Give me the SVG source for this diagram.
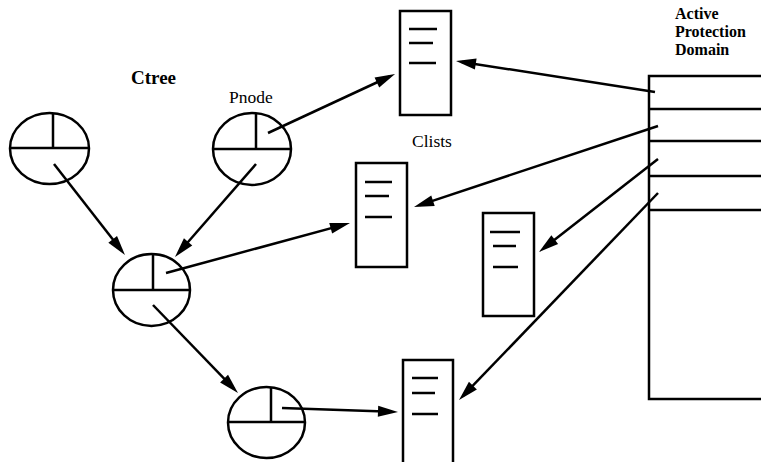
<svg xmlns="http://www.w3.org/2000/svg" width="761" height="462" viewBox="0 0 761 462">
<style>
.s{fill:none;stroke:#000;stroke-width:2.5}
.l{fill:none;stroke:#000;stroke-width:2.5;stroke-linecap:butt;marker-end:url(#ah)}
.t{font-family:"Liberation Serif","Times New Roman",serif;fill:#000}
.b{font-weight:bold}
</style>
<defs>
<marker id="ah" markerUnits="userSpaceOnUse" markerWidth="21" markerHeight="12" refX="14" refY="5.5" orient="auto" overflow="visible">
<path d="M0,0 L20,5.5 L0,11 z" fill="#000"/>
</marker>
</defs>
<rect width="761" height="462" fill="#fff"/>

<g id="labels">
<text class="t b" x="131" y="84" font-size="19">Ctree</text>
<text class="t" x="229" y="103" font-size="17.5">Pnode</text>
<text class="t" x="412" y="147" font-size="17.5">Clists</text>
<text class="t b" x="675" y="19" font-size="16">Active</text>
<text class="t b" x="675" y="37" font-size="16">Protection</text>
<text class="t b" x="675" y="55" font-size="16">Domain</text>
</g>

<g id="node1">
<ellipse class="s" cx="49.5" cy="148.5" rx="39.5" ry="35.5"/>
<path class="s" d="M10,148 H89 M53,113 V148"/>
</g>
<g id="node2">
<ellipse class="s" cx="252" cy="149" rx="39" ry="36"/>
<path class="s" d="M213,149 H291 M256,113 V149"/>
</g>
<g id="node3">
<ellipse class="s" cx="151.5" cy="290" rx="38.5" ry="36"/>
<path class="s" d="M113,290 H190 M153,254 V290"/>
</g>
<g id="node4">
<ellipse class="s" cx="266.5" cy="422.5" rx="38.5" ry="35.5"/>
<path class="s" d="M228,422 H305 M271,387 V422"/>
</g>

<g id="clist1">
<rect class="s" x="400" y="11" width="51" height="104"/>
<path class="s" d="M409,29 H437 M409,43 H433 M409,63 H436"/>
</g>
<g id="clist2">
<rect class="s" x="356" y="163" width="51" height="104"/>
<path class="s" d="M365,182 H392 M365,196 H389 M365,217 H392"/>
</g>
<g id="clist3">
<rect class="s" x="483" y="213" width="51" height="103"/>
<path class="s" d="M490,232 H520 M493,246 H516 M493,267 H518"/>
</g>
<g id="clist4">
<rect class="s" x="403" y="360" width="50" height="120"/>
<path class="s" d="M412,378 H438 M412,393 H435 M412,414 H438"/>
</g>

<g id="apd">
<rect class="s" x="649" y="76" width="130" height="323"/>
<path class="s" d="M649,109 H761 M649,141 H761 M649,176 H761 M649,210 H761"/>
</g>

<g id="connectors">
<path class="l" d="M54,164 L121.3,250.3"/>
<path class="l" d="M256,164 L178.9,252.5"/>
<path class="l" d="M268,133 L389.6,76.5"/>
<path class="l" d="M166,273 L344.2,224.6"/>
<path class="l" d="M153,305 L233.8,388.7"/>
<path class="l" d="M282,408 L392,411.8"/>
<path class="l" d="M655,92 L461.9,61.9"/>
<path class="l" d="M658,126 L419.7,205.1"/>
<path class="l" d="M658,159 L543.7,248.3"/>
<path class="l" d="M658,193 L463.2,395.7"/>
</g>
</svg>
